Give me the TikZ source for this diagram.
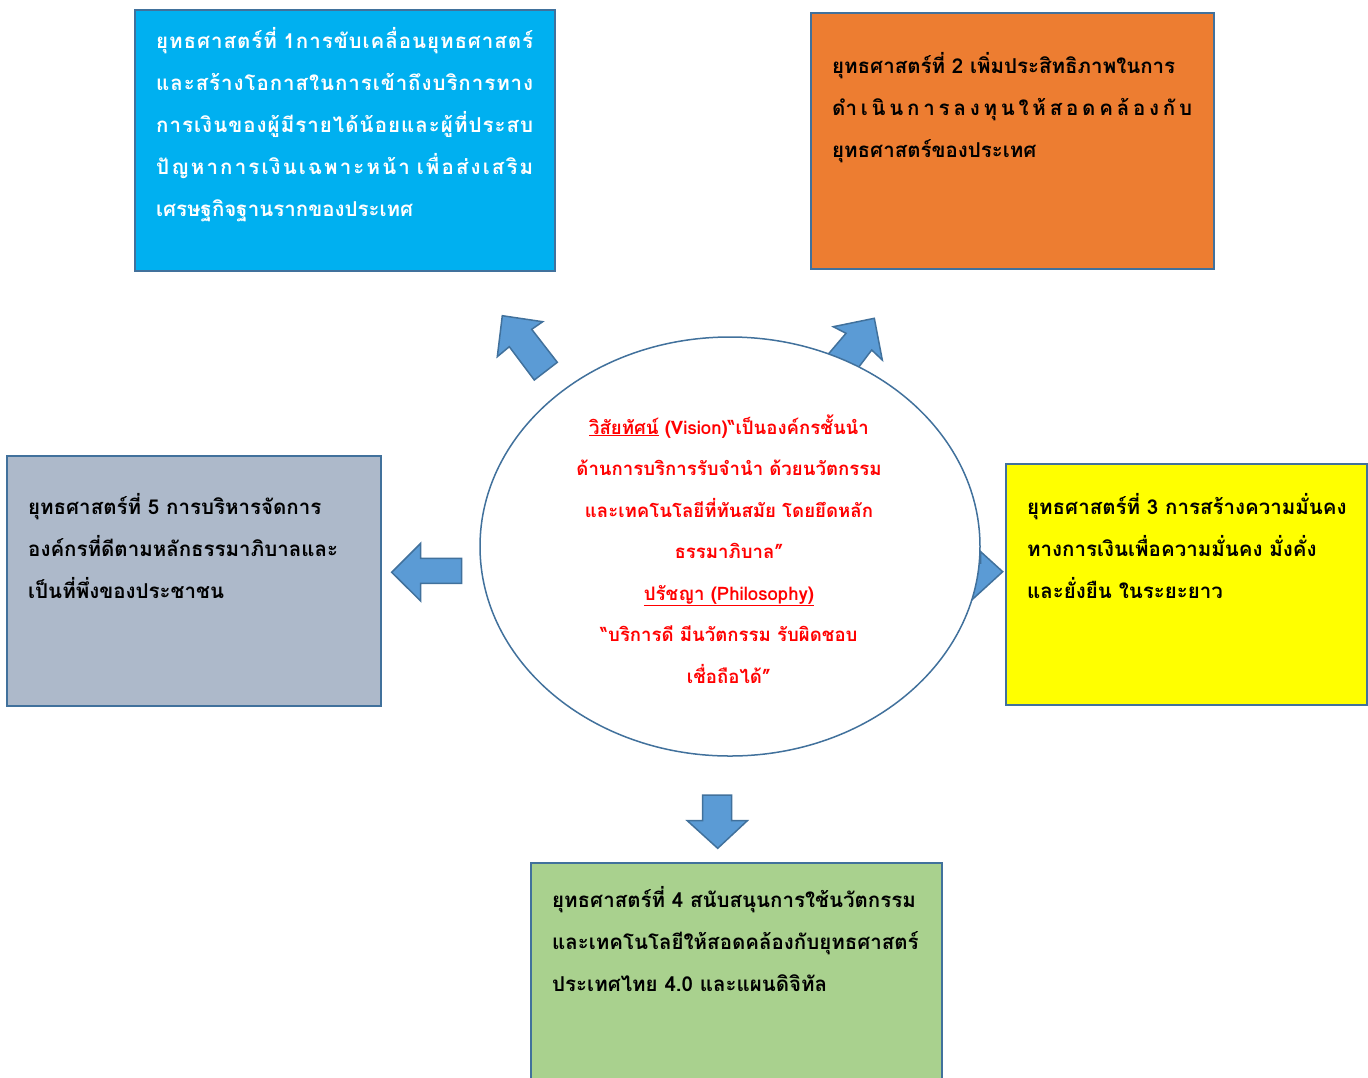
\documentclass[tikz,border=0pt]{standalone}
\usepackage{fontspec}
\setmainfont[Script=Thai]{Loma}
\usetikzlibrary{shapes.geometric}
\definecolor{bord}{HTML}{41719C}
\definecolor{arrowfill}{HTML}{5B9BD5}
\definecolor{boxblue}{HTML}{00B0F0}
\definecolor{boxorange}{HTML}{ED7D31}
\definecolor{boxgray}{HTML}{ADB9CA}
\definecolor{boxyellow}{HTML}{FFFF00}
\definecolor{boxgreen}{HTML}{A9D18E}
\definecolor{visred}{HTML}{FF0000}
\newcommand{\spreadline}[2]{\makebox[#1][s]{#2}}
\begin{document}
\begin{tikzpicture}[x=1pt,y=-1pt,
  stratbox/.style={draw=bord, line width=1.5pt, rectangle, inner sep=0pt},
  strattxt/.style={anchor=base west, align=left, text width=420pt, inner sep=0pt,
    font=\fontsize{20.5}{42}\selectfont\bfseries},
  blockarrow/.style={draw=bord, line width=1.5pt, fill=arrowfill, line join=miter}]
\useasboundingbox (0,0) rectangle (1368,1077);
\fill[white] (0,0) rectangle (1368,1077);

% boxes
\node[stratbox, fill=boxblue, minimum width=420pt, minimum height=261pt] (b1) at (345,140.5) {};
\node[stratbox, fill=boxorange, minimum width=403pt, minimum height=256pt] (b2) at (1012.5,141) {};
\node[stratbox, fill=boxgray, minimum width=374pt, minimum height=250pt] (b5) at (194,581) {};
\node[stratbox, fill=boxyellow, minimum width=361pt, minimum height=241pt] (b3) at (1186.5,584.5) {};
\node[stratbox, fill=boxgreen, minimum width=411pt, minimum height=230pt] (b4) at (736.5,978) {};

% block arrows (drawn before the ellipse, which covers their shafts)
\draw[blockarrow] (502.3,315.7) -- (542.7,321.7) -- (531.7,329.3) -- (557.3,362.3)
  -- (534.3,380) -- (509.3,346.7) -- (497.3,356.7) -- cycle;
\draw[blockarrow] (874.3,318.3) -- (882.3,360) -- (871.7,350) -- (852,376)
  -- (825,358) -- (846,333.3) -- (833.3,326.7) -- cycle;
\draw[blockarrow] (1002.7,571.7) -- (980.7,551.7) -- (980.7,563) -- (950,563)
  -- (950,583) -- (971.7,583) -- (971.7,600) -- cycle;
\draw[blockarrow] (391.7,572.3) -- (420.7,543.3) -- (420.7,558.3) -- (461.7,558.3)
  -- (461.7,583.3) -- (420.7,583.3) -- (420.7,601) -- cycle;
\draw[blockarrow] (717.7,848.3) -- (687.3,820.7) -- (702.7,820.7) -- (702.7,795)
  -- (731.7,795) -- (731.7,820.7) -- (747.3,820.7) -- cycle;

% central ellipse
\node[ellipse, draw=bord, line width=1.5pt, fill=white, minimum width=500pt,
  minimum height=419pt, inner sep=0pt] (vis) at (730,546.5) {};

% texts
\node[strattxt, text=white] (t1) at (156,48.5) {%
\spreadline{377pt}{ยุ\hfill ท\hfill ธ\hfill ศ\hfill า\hfill ส\hfill ต\hfill ร์\hfill ที่ 1\hfill ก\hfill า\hfill ร\hfill ขั\hfill บ\hfill เ\hfill ค\hfill ลื่\hfill อ\hfill น\hfill ยุ\hfill ท\hfill ธ\hfill ศ\hfill า\hfill ส\hfill ต\hfill ร์}\\
\spreadline{377pt}{แ\hfill ล\hfill ะ\hfill ส\hfill ร้\hfill า\hfill ง\hfill โ\hfill อ\hfill ก\hfill า\hfill ส\hfill ใ\hfill น\hfill ก\hfill า\hfill ร\hfill เ\hfill ข้\hfill า\hfill ถึ\hfill ง\hfill บ\hfill ริ\hfill ก\hfill า\hfill ร\hfill ท\hfill า\hfill ง}\\
\spreadline{377pt}{ก\hfill า\hfill ร\hfill เ\hfill งิ\hfill น\hfill ข\hfill อ\hfill ง\hfill ผู้\hfill มี\hfill ร\hfill า\hfill ย\hfill ไ\hfill ด้\hfill น้\hfill อ\hfill ย\hfill แ\hfill ล\hfill ะ\hfill ผู้\hfill ที่\hfill ป\hfill ร\hfill ะ\hfill ส\hfill บ}\\
\spreadline{377pt}{ปั\hfill ญ\hfill ห\hfill า\hfill ก\hfill า\hfill ร\hfill เ\hfill งิ\hfill น\hfill เ\hfill ฉ\hfill พ\hfill า\hfill ะ\hfill ห\hfill น้\hfill า เ\hfill พื่\hfill อ\hfill ส่\hfill ง\hfill เ\hfill ส\hfill ริ\hfill ม}\\
เศรษฐกิจฐานรากของประเทศ};
\node[strattxt] (t2) at (832,73.5) {ยุทธศาสตร์ที่ 2 เพิ่มประสิทธิภาพในการ\\
\spreadline{360pt}{ดำ\hfill เ\hfill นิ\hfill น\hfill ก\hfill า\hfill ร\hfill ล\hfill ง\hfill ทุ\hfill น\hfill ใ\hfill ห้\hfill ส\hfill อ\hfill ด\hfill ค\hfill ล้\hfill อ\hfill ง\hfill กั\hfill บ}\\
ยุทธศาสตร์ของประเทศ};
\node[strattxt] (t5) at (28,514.5) {ยุทธศาสตร์ที่ 5 การบริหารจัดการ\\
องค์กรที่ดีตามหลักธรรมาภิบาลและ\\
เป็นที่พึ่งของประชาชน};
\node[strattxt] (t3) at (1027,514.5) {ยุทธศาสตร์ที่ 3 การสร้างความมั่นคง\\
ทางการเงินเพื่อความมั่นคง มั่งคั่ง\\
และยั่งยืน ในระยะยาว};
\node[strattxt] (t4) at (552,907.5) {ยุทธศาสตร์ที่ 4 สนับสนุนการใช้นวัตกรรม\\
และเทคโนโลยีให้สอดคล้องกับยุทธศาสตร์\\
ประเทศไทย 4.0 และแผนดิจิทัล};
\node[anchor=base, align=center, text width=380pt, text=visred, inner sep=0pt,
  font=\fontsize{18.6}{41.5}\selectfont\bfseries] (vt) at (729,434)
  {\underline{วิสัยทัศน์} (Vision)“เป็นองค์กรชั้นนำ\\
ด้านการบริการรับจำนำ ด้วยนวัตกรรม\\
และเทคโนโลยีที่ทันสมัย โดยยึดหลัก\\
ธรรมาภิบาล”\\
\underline{ปรัชญา (Philosophy)}\\
“บริการดี  มีนวัตกรรม รับผิดชอบ\\
เชื่อถือได้”};
\end{tikzpicture}
\end{document}
